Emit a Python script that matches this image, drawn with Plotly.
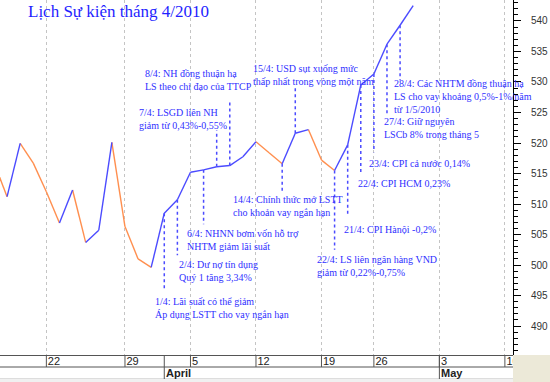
import plotly.graph_objects as go

# ---------------- data ----------------
day_idx = list(range(-13, 20))          # trading-day index, 0 = 1 April 2010
close = [516.8, 511.2, 519.95, 516.7, 512.0, 506.9, 512.3, 503.7, 505.7, 520.1, 506.3, 501.0, 499.6,
         508.5, 510.7, 515.2, 515.6, 516.1, 516.3, 517.75, 520.2, 518.4, 516.6, 521.6, 522.2,
         517.2, 515.5, 519.7, 529.5, 531.3, 536.2, 539.3, 542.5]

tick_idx = [-9, -3, 2, 7, 12, 16, 21, 26]
tick_text = ["22", "29", "5", "12", "19", "26", "3", "10"]
month_idx = [0, 21]
month_text = ["April", "May"]

y_ticks = [490, 495, 500, 505, 510, 515, 520, 525, 530, 535, 540]

title_text = "Lịch Sự kiện tháng 4/2010"

event_idx = [0, 1, 3, 4, 5, 9, 10, 13, 14, 15, 16, 17, 18]
event_text = [
    "1/4: Lãi suất có thể giảm<br>Áp dụng LSTT cho vay ngắn hạn",
    "2/4: Dư nợ tín dụng<br>Quý 1 tăng 3,34%",
    "6/4: NHNN bơm vốn hỗ trợ<br>NHTM giảm lãi suất",
    "7/4: LSGD liên NH<br>giảm từ 0,43%-0,55%",
    "8/4: NH đồng thuận hạ<br>LS theo chỉ đạo của TTCP",
    "14/4: Chính thức mở LSTT<br>cho khoản vay ngắn hạn",
    "15/4: USD sụt xuống mức<br>thấp nhất trong vòng một năm",
    "22/4: LS liên ngân hàng VND<br>giảm từ 0,22%-0,75%",
    "21/4: CPI Hànội -0,2%",
    "22/4: CPI HCM 0,23%",
    "23/4: CPI cả nước 0,14%",
    "27/4: Giữ nguyên<br>LSCb 8% trong tháng 5",
    "28/4: Các NHTM đồng thuận hạ<br>LS cho vay khoảng 0,5%-1%/năm<br>từ 1/5/2010",
]
# ---------------- layout placement (label positions) ----------------
label_y = [492.95, 499.0, 504.05, 523.9, 530.3, 509.6, 531.1, 499.8, 505.8, 513.3, 516.7, 522.5, 527.6]
label_xshift = [-11.6, -0.7, -18.6, -80, -86.5, -51.2, -44.6, -19.6, -6, -5, -7.2, -5.3, -8.4]
leader_end = [495.9, 501.6, 506.7, 522.1, 527.05, 512.1, 529.3, 502.5, 508.0, 514.9, 518.5, 524.6, 530.3]

BLUE = "#4b4bff"
ORANGE = "#ff8f4f"
TEXT_BLUE = "#2f2fff"
W, H = 550, 382
ML, MR, MT, MB = 0, 37, 0, 27
PH = H - MT - MB
PW = W - ML - MR

# up / down segments
up_x, up_y, dn_x, dn_y = [], [], [], []
for i in range(len(close) - 1):
    seg_x = [day_idx[i], day_idx[i + 1], None]
    seg_y = [close[i], close[i + 1], None]
    if close[i + 1] >= close[i]:
        up_x += seg_x; up_y += seg_y
    else:
        dn_x += seg_x; dn_y += seg_y

fig = go.Figure()
fig.add_trace(go.Scatter(x=dn_x, y=dn_y, mode="lines", line=dict(color=ORANGE, width=1.4),
                         hoverinfo="skip", showlegend=False))
fig.add_trace(go.Scatter(x=up_x, y=up_y, mode="lines", line=dict(color=BLUE, width=1.4),
                         hoverinfo="skip", showlegend=False))

shapes = []
# leader lines from data points
for k, ei in enumerate(event_idx):
    shapes.append(dict(type="line", xref="x", yref="y", x0=ei, x1=ei,
                       y0=close[day_idx.index(ei)], y1=leader_end[k],
                       line=dict(color=BLUE, width=1.5, dash="dot")))
row1 = -12 / PH
row2 = -24 / PH
# axis rows
shapes.append(dict(type="line", xref="paper", yref="paper", x0=0, x1=1, y0=row1, y1=row1,
                   line=dict(color="#555555", width=1)))
shapes.append(dict(type="line", xref="paper", yref="paper", x0=0, x1=1, y0=row2, y1=row2,
                   line=dict(color="#bbbbbb", width=1)))
shapes.append(dict(type="rect", xref="paper", yref="paper", x0=0, x1=1, y0=-MB / PH, y1=row2,
                   fillcolor="#f0f0f0", line=dict(width=0), layer="above"))
for t in tick_idx:
    shapes.append(dict(type="line", xref="x", yref="paper", x0=t, x1=t, y0=0, y1=row1,
                       line=dict(color="#555555", width=1)))
for t in month_idx:
    shapes.append(dict(type="line", xref="x", yref="paper", x0=t, x1=t, y0=0, y1=row2,
                       line=dict(color="#555555", width=1)))
shapes.append(dict(type="rect", xref="paper", yref="paper", x0=1, x1=W / PW, y0=-MB / PH, y1=0,
                   fillcolor="#ece9d8", line=dict(width=0), layer="above"))

annotations = []
annotations.append(dict(text=title_text, xref="paper", yref="paper", x=26 / PW, y=(PH - 12) / PH,
                        xanchor="left", yanchor="middle", showarrow=False,
                        font=dict(family="Liberation Serif", size=17, color="#1f1fff")))
for k, ei in enumerate(event_idx):
    annotations.append(dict(text=event_text[k], xref="x", yref="y", x=ei, y=label_y[k],
                            xanchor="left", yanchor="middle", align="left", showarrow=False,
                            xshift=label_xshift[k],
                            font=dict(family="Liberation Serif", size=10, color=TEXT_BLUE)))
for k, mi in enumerate(month_idx):
    annotations.append(dict(text="<b>" + month_text[k] + "</b>", xref="x", yref="paper", x=mi,
                            y=-18 / PH, xanchor="left", yanchor="middle", showarrow=False, xshift=0,
                            font=dict(family="Arial", size=11, color="#222222")))

fig.update_layout(
    template="none",
    width=W, height=H,
    margin=dict(l=ML, r=MR, t=MT, b=MB, autoexpand=False),
    paper_bgcolor="white", plot_bgcolor="white",
    showlegend=False,
    xaxis=dict(range=[-12.54, 26.62], tickmode="array", tickvals=tick_idx, ticktext=tick_text,
               automargin=False,
               showgrid=True, gridcolor="#c4c4c4", griddash="dot", gridwidth=1,
               zeroline=False, showline=True, linecolor="#555555", ticks="",
               ticklabelposition="outside right", ticklabelshift=1, ticklabelstandoff=-4,
               tickfont=dict(family="Arial", size=11, color="#222222")),
    yaxis=dict(range=[485.25, 543.44], side="right", tickmode="array", tickvals=y_ticks,
               automargin=False,
               showgrid=False, zeroline=False, showline=True, linecolor="black",
               ticks="outside", ticklen=7, tickcolor="black",
               minor=dict(tick0=0, dtick=1, ticks="outside", ticklen=4, tickcolor="black"),
               ticklabelstandoff=8,
               tickfont=dict(family="Arial", size=10, color="#333333")),
    shapes=shapes,
    annotations=annotations,
)

fig.write_html("out.html", config={"displayModeBar": False},
               post_script="document.body.style.margin='0';document.body.style.overflow='hidden';")
